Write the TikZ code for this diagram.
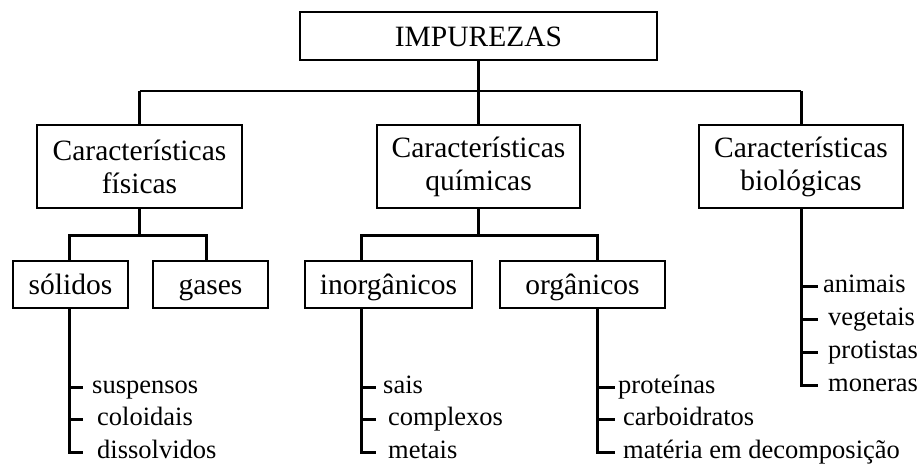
\documentclass[tikz,border=0pt]{standalone}
\usepackage{fontspec}
\setmainfont{Liberation Serif}
\begin{document}
\begin{tikzpicture}[x=1pt,y=-1pt,
  box/.style={draw, line width=2.8pt, inner sep=0pt, align=center, font=\fontsize{29.5}{33}\selectfont},
  onebox/.style={box, text height=20pt, text depth=0pt},
  conn/.style={line width=3pt},
  bar/.style={line width=2.2pt},
  item/.style={inner sep=0pt, anchor=west, text height=13pt, text depth=0pt, font=\fontsize{26.5}{32}\selectfont}]
\useasboundingbox (0,0) rectangle (924,464);
% boxes
\node[onebox, minimum width=357pt, minimum height=48pt] (imp) at (478.5,36) {IMPUREZAS};
\node[box, minimum width=205pt, minimum height=83pt] (fis) at (139.5,166.5) {Características\\físicas};
\node[box, minimum width=203pt, minimum height=83pt] (qui) at (478.5,166.5) {Características\\químicas};
\node[box, minimum width=204pt, minimum height=83pt] (bio) at (801,166.5) {Características\\biológicas};
\node[onebox, minimum width=115pt, minimum height=47pt] (sol) at (70.5,284.5) {sólidos};
\node[onebox, minimum width=115pt, minimum height=47pt] (gas) at (210.5,284.5) {gases};
\node[onebox, minimum width=167pt, minimum height=47pt] (ino) at (388.5,284.5) {inorgânicos};
\node[onebox, minimum width=165pt, minimum height=47pt] (org) at (582.5,284.5) {orgânicos};
% top level connectors
\coordinate (hl) at (139.5,91);
\coordinate (hr) at (801,91);
\draw[conn] (imp.south) -- (imp.south |- hl);
\draw[bar] (hl) -- (hr);
\draw[conn] (hl) -- (fis.north);
\draw[conn] (qui.north |- hl) -- (qui.north);
\draw[conn] (hr) -- (bio.north);
% second level
\coordinate (fl) at (69,235);
\coordinate (fr) at (206,235);
\coordinate (ql) at (361,235);
\coordinate (qr) at (597,235);
\draw[conn] (fis.south) -- (fis.south |- fl);
\draw[conn] (sol.north -| fl) -- (fl) -- (fr) -- (gas.north -| fr);
\draw[conn] (qui.south) -- (qui.south |- ql);
\draw[conn] (ino.north -| ql) -- (ql) -- (qr) -- (org.north -| qr);
% lists: solidos
\node[item] (s1) at (92,387) {suspensos};
\node[item] (s2) at (97,419) {coloidais};
\node[item] (s3) at (97,452) {dissolvidos};
\draw[conn] (sol.south -| fl) |- ([xshift=-14pt]s3.west);
\draw[conn] (fl |- s1.west) -- ([xshift=-9pt]s1.west);
\draw[conn] (fl |- s2.west) -- ([xshift=-14pt]s2.west);
% inorganicos
\node[item] (n1) at (383,387) {sais};
\node[item] (n2) at (388,419) {complexos};
\node[item] (n3) at (388,452) {metais};
\draw[conn] (ino.south -| ql) |- ([xshift=-12pt]n3.west);
\draw[conn] (ql |- n1.west) -- ([xshift=-7pt]n1.west);
\draw[conn] (ql |- n2.west) -- ([xshift=-12pt]n2.west);
% organicos
\node[item] (o1) at (618,387) {proteínas};
\node[item] (o2) at (623,419) {carboidratos};
\node[item] (o3) at (623,452) {matéria em decomposição};
\draw[conn] (org.south -| qr) |- ([xshift=-8pt]o3.west);
\draw[conn] (qr |- o1.west) -- ([xshift=-3pt]o1.west);
\draw[conn] (qr |- o2.west) -- ([xshift=-8pt]o2.west);
% biologicas
\node[item] (b1) at (823,286) {animais};
\node[item] (b2) at (828,319) {vegetais};
\node[item] (b3) at (828,352) {protistas};
\node[item] (b4) at (828,385) {moneras};
\draw[conn] (bio.south) |- ([xshift=-10pt]b4.west);
\draw[conn] (bio.south |- b1.west) -- ([xshift=-5pt]b1.west);
\draw[conn] (bio.south |- b2.west) -- ([xshift=-10pt]b2.west);
\draw[conn] (bio.south |- b3.west) -- ([xshift=-10pt]b3.west);
\end{tikzpicture}
\end{document}
